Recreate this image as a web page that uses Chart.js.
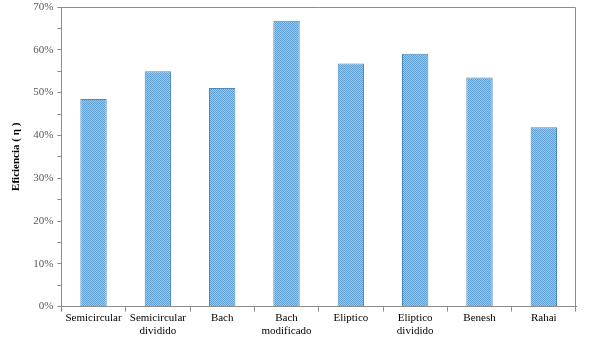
<!DOCTYPE html>
<html>
<head>
<meta charset="utf-8">
<script src="https://cdn.jsdelivr.net/npm/chart.js@4"></script>
<style>
  html, body { margin: 0; padding: 0; background: #fff; }
</style>
</head>
<body>
<canvas id="chart" width="600" height="341"></canvas>
<script>
// Eficiencia por tipo de turbina
const categories = [
    ["Semicircular"],
    ["Semicircular", "dividido"],
    ["Bach"],
    ["Bach", "modificado"],
    ["Eliptico"],
    ["Eliptico", "dividido"],
    ["Benesh"],
    ["Rahai"],
]
const efficiency = [48.5, 55.0, 51.1, 66.8, 56.8, 59.1, 53.5, 41.9]
const yTicks = [0, 10, 20, 30, 40, 50, 60, 70]

// small checker pattern like the original bar fill
function makePattern() {
    const c = document.createElement("canvas")
    c.width = 2
    c.height = 2
    const p = c.getContext("2d")
    p.fillStyle = "#9cc8e8"
    p.fillRect(0, 0, 2, 2)
    p.fillStyle = "#5f9fd2"
    p.fillRect(0, 0, 1, 1)
    p.fillRect(1, 1, 1, 1)
    return p.createPattern(c, "repeat")
}

// gray frame around plot area
const frame = {
    id: "frame",
    afterDraw(chart) {
        const { ctx, chartArea: a } = chart
        ctx.save()
        ctx.strokeStyle = "#8c8c8c"
        ctx.lineWidth = 1
        ctx.beginPath()
        ctx.moveTo(a.left, a.top + 0.5)
        ctx.lineTo(a.right - 0.5, a.top + 0.5)
        ctx.lineTo(a.right - 0.5, a.bottom)
        ctx.stroke()
        ctx.restore()
    },
}

const serif = "'Liberation Serif', 'Times New Roman', serif"

new Chart(document.getElementById("chart"), {
    type: "bar",
    data: {
        labels: categories,
        datasets: [
            {
                label: "Eficiencia",
                data: efficiency,
                backgroundColor: makePattern(),
                borderColor: "#4a88bd",
                borderWidth: 1,
                categoryPercentage: 1,
                barPercentage: 0.41,
            },
        ],
    },
    options: {
        responsive: false,
        animation: false,
        layout: { padding: { top: 7, right: 24, left: 10, bottom: 3 } },
        plugins: {
            legend: { display: false },
            tooltip: { enabled: false },
        },
        scales: {
            x: {
                grid: {
                    offset: true,
                    drawOnChartArea: false,
                    tickLength: 5,
                    color: "#8c8c8c",
                },
                border: { color: "#8c8c8c" },
                ticks: {
                    color: "#000",
                    font: { family: serif, size: 11 },
                    padding: 0,
                    maxRotation: 0,
                },
            },
            y: {
                min: 0,
                max: 70,
                afterFit: (scale) => {
                    scale.paddingTop = 0
                },
                grid: {
                    drawOnChartArea: false,
                    tickLength: 4,
                    color: "#8c8c8c",
                },
                border: { color: "#8c8c8c" },
                ticks: {
                    stepSize: 5,
                    color: "#595959",
                    font: { family: serif, size: 11 },
                    padding: 4,
                    callback: (v) => (yTicks.includes(v) ? v + "%" : ""),
                },
                title: {
                    display: true,
                    text: "Eficiencia ( η )",
                    color: "#000",
                    font: { family: serif, size: 11, weight: "bold" },
                    padding: { top: 0, bottom: 6 },
                },
            },
        },
    },
    plugins: [frame],
})
</script>
</body>
</html>
